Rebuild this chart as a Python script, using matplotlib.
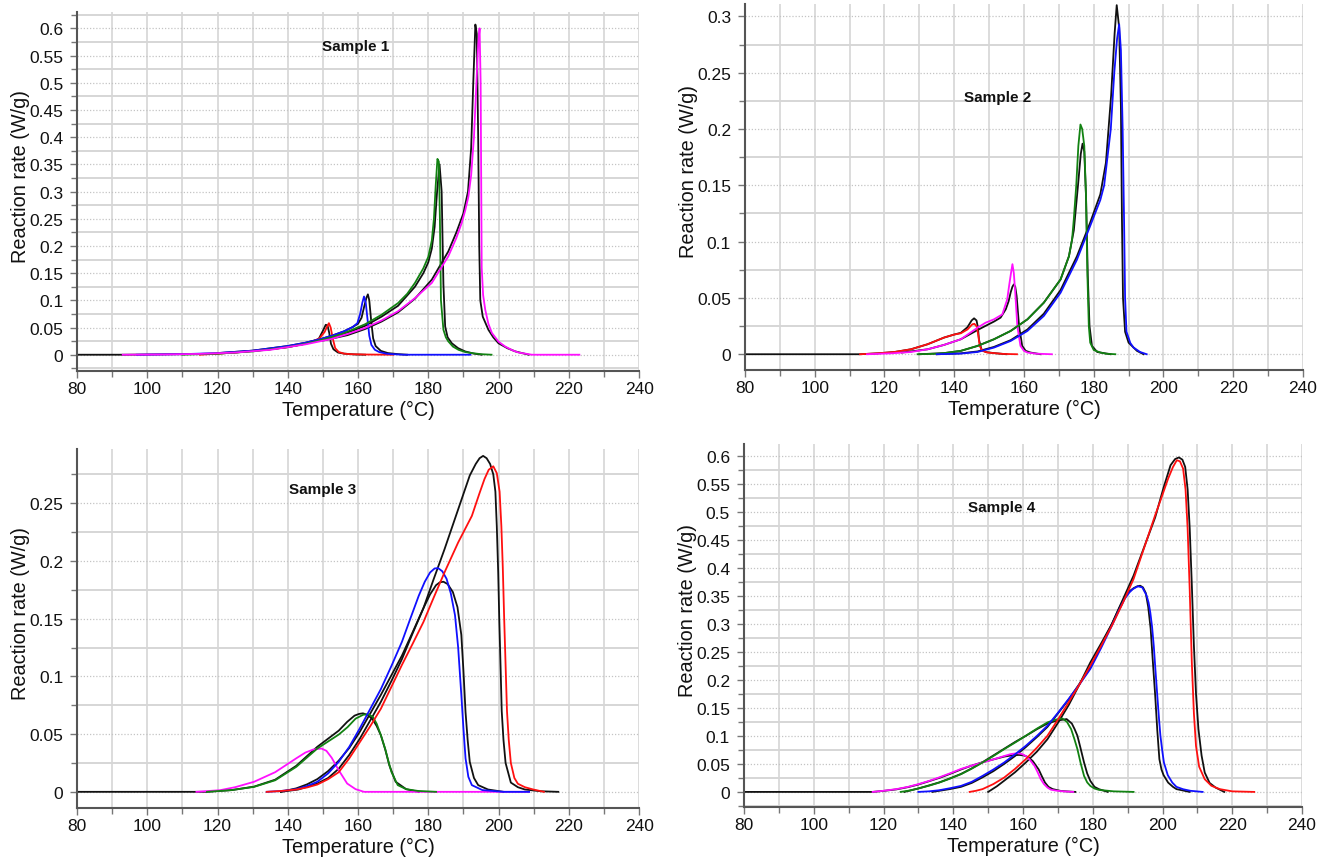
import matplotlib
matplotlib.use("Agg")
import matplotlib.pyplot as plt
from matplotlib.ticker import MultipleLocator, FuncFormatter

plt.rcParams['font.family'] = ['Liberation Sans', 'DejaVu Sans']

# ---------------- Sample 1 ----------------
s1_red_T = [115, 120, 125, 130, 135, 140, 144, 147, 149, 150.5, 151.2, 151.7, 152.2, 152.8, 153.5, 154.5, 156, 158, 162, 170]
s1_red_y = [0, 0.002, 0.004, 0.007, 0.010, 0.014, 0.019, 0.024, 0.030, 0.042, 0.052, 0.058, 0.050, 0.030, 0.012, 0.005, 0.002, 0.001, 0.0004, 0]
s1_blk_a_T = [80, 93, 110, 120, 125, 130, 135, 140, 144, 147, 148.8, 150, 150.8, 151.3, 151.8, 152.3, 153, 154.3, 156, 159, 162]
s1_blk_a_y = [0, 0, 0.001, 0.002, 0.004, 0.007, 0.010, 0.014, 0.019, 0.024, 0.029, 0.044, 0.055, 0.054, 0.040, 0.020, 0.010, 0.004, 0.002, 0.0005, 0]
s1_blue_T = [97, 110, 120, 130, 140, 145, 150, 153, 156, 158.5, 159.8, 160.6, 161.2, 161.7, 162.2, 162.7, 163.2, 163.8, 164.8, 166, 168, 170, 173, 192]
s1_blue_y = [0, 0.001, 0.003, 0.0075, 0.016, 0.022, 0.030, 0.036, 0.043, 0.051, 0.058, 0.075, 0.095, 0.107, 0.095, 0.065, 0.035, 0.018, 0.009, 0.005, 0.002, 0.001, 0, 0]
s1_blk_b_T = [120, 130, 140, 145, 150, 153, 156, 158.5, 160, 161, 161.8, 162.4, 162.8, 163.2, 163.7, 164.3, 165, 166.5, 168.5, 171.5, 174]
s1_blk_b_y = [0.003, 0.0075, 0.016, 0.022, 0.030, 0.036, 0.043, 0.051, 0.057, 0.068, 0.09, 0.105, 0.111, 0.100, 0.065, 0.030, 0.016, 0.007, 0.003, 0.001, 0]
s1_green_T = [110, 120, 130, 140, 145, 150, 155, 158, 162, 166.7, 171.4, 174, 176.2, 178.6, 180, 181, 181.6, 182.1, 182.6, 183.0, 183.3, 183.6, 184.3, 185, 185.7, 187, 188.6, 190.5, 192.4, 195, 198]
s1_green_y = [0, 0.002, 0.006, 0.014, 0.020, 0.028, 0.037, 0.045, 0.056, 0.0735, 0.095, 0.112, 0.132, 0.159, 0.18, 0.21, 0.25, 0.31, 0.36, 0.355, 0.25, 0.10, 0.046, 0.032, 0.0245, 0.015, 0.009, 0.005, 0.003, 0.001, 0]
s1_blk_c_T = [150, 158, 162, 166.7, 171.4, 176.2, 178.6, 180, 181, 181.8, 182.5, 183.2, 183.8, 184.3, 184.8, 185.5, 186.7, 188.5, 190.5, 193, 195.2]
s1_blk_c_y = [0.027, 0.043, 0.053, 0.070, 0.090, 0.125, 0.150, 0.170, 0.195, 0.235, 0.30, 0.35, 0.30, 0.13, 0.052, 0.032, 0.021, 0.012, 0.006, 0.002, 0]
s1_mag_T = [93, 105, 115, 125, 135, 145, 152.4, 157, 161.9, 166.7, 171.4, 176.2, 181, 185.7, 188, 189.5, 190.5, 191.4, 192.2, 193, 193.7, 194.2, 194.6, 194.9, 195.2, 195.6, 196.2, 197.1, 198.1, 200, 201.9, 204, 205.7, 209.5, 223]
s1_mag_y = [0, 0.0005, 0.0015, 0.004, 0.009, 0.019, 0.029, 0.038, 0.049, 0.063, 0.080, 0.104, 0.132, 0.181, 0.215, 0.242, 0.265, 0.29, 0.33, 0.40, 0.50, 0.57, 0.60, 0.50, 0.16, 0.11, 0.083, 0.057, 0.04, 0.024, 0.015, 0.008, 0.004, 0, 0]
s1_blk_d_T = [150, 157, 161.9, 166.7, 171.4, 176.2, 181, 185.7, 188, 190, 191.3, 192.2, 192.8, 193.4, 193.8, 194.2, 194.5, 194.8, 195.5, 197.1, 198.5, 200, 202.5, 204.8, 208.6]
s1_blk_d_y = [0.026, 0.036, 0.047, 0.061, 0.078, 0.103, 0.138, 0.19, 0.225, 0.26, 0.30, 0.38, 0.50, 0.607, 0.59, 0.40, 0.20, 0.10, 0.07, 0.046, 0.032, 0.021, 0.012, 0.006, 0]

# ---------------- Sample 2 ----------------
s2_red_T = [113, 118, 122.9, 127.6, 132.4, 137.1, 140, 141.9, 143.8, 145.2, 145.8, 146.5, 147.0, 147.3, 148.1, 149.5, 151.4, 154, 158]
s2_red_y = [0, 0.0008, 0.002, 0.0044, 0.0089, 0.0148, 0.0175, 0.0186, 0.022, 0.0266, 0.027, 0.0245, 0.015, 0.0074, 0.003, 0.0015, 0.001, 0.0003, 0]
s2_blk_a_T = [80, 113, 118, 122.9, 127.6, 132.4, 137.1, 140, 141.9, 143.8, 145.0, 145.7, 146.4, 146.8, 147.1, 147.8, 149, 151.4, 155]
s2_blk_a_y = [0, 0, 0.0008, 0.002, 0.0044, 0.0089, 0.0148, 0.0175, 0.019, 0.024, 0.030, 0.0319, 0.030, 0.024, 0.013, 0.0044, 0.002, 0.001, 0]
s2_mag_T = [115, 122, 127.6, 132.4, 137.1, 141.9, 146.7, 149, 151.4, 153.8, 155.2, 155.8, 156.3, 156.7, 157.1, 157.5, 158.1, 159, 160, 161, 163.5, 168]
s2_mag_y = [0, 0.0008, 0.002, 0.0044, 0.0083, 0.0133, 0.0236, 0.028, 0.031, 0.0354, 0.0487, 0.062, 0.0723, 0.080, 0.072, 0.055, 0.025, 0.0074, 0.003, 0.0015, 0.0005, 0]
s2_blk_b_T = [125, 132.4, 137.1, 141.9, 146.7, 149.5, 151.4, 153.3, 154.8, 155.6, 156.2, 156.7, 157.1, 157.5, 157.9, 158.6, 159.5, 160.5, 161.9, 164.8]
s2_blk_b_y = [0.0015, 0.0044, 0.0083, 0.0133, 0.0215, 0.026, 0.029, 0.0325, 0.040, 0.047, 0.055, 0.060, 0.062, 0.060, 0.0517, 0.025, 0.0074, 0.003, 0.0015, 0]
s2_green_T = [129.5, 135, 137.1, 141.9, 146.7, 151.4, 156.2, 161, 165.7, 170.5, 172.9, 173.8, 174.3, 175, 175.6, 176.2, 176.7, 177.3, 177.8, 178.2, 178.6, 179, 180, 181.9, 183.5, 186.2]
s2_green_y = [0, 0.0005, 0.001, 0.003, 0.0074, 0.0133, 0.0207, 0.031, 0.0458, 0.0664, 0.087, 0.1019, 0.12, 0.15, 0.185, 0.204, 0.200, 0.185, 0.14, 0.07, 0.025, 0.0103, 0.0038, 0.0015, 0.0005, 0]
s2_blk_c_T = [130, 137.1, 141.9, 146.7, 151.4, 156.2, 161, 165.7, 170.5, 172.9, 174.3, 175.5, 176.3, 176.8, 177.3, 177.8, 178.3, 178.8, 179.5, 181, 184.8]
s2_blk_c_y = [0, 0.001, 0.003, 0.0074, 0.0133, 0.0207, 0.031, 0.0458, 0.0664, 0.087, 0.11, 0.15, 0.178, 0.187, 0.18, 0.14, 0.07, 0.025, 0.0074, 0.002, 0]
s2_blue_T = [135, 141.9, 146.7, 151.4, 156.2, 161, 165.7, 170.5, 175.2, 179, 181.9, 183, 184.9, 185.9, 186.7, 187.3, 187.8, 188.3, 188.7, 189.0, 189.4, 190.5, 191.4, 193.3, 195.2]
s2_blue_y = [0, 0.0006, 0.002, 0.0059, 0.0118, 0.0207, 0.034, 0.0546, 0.084, 0.114, 0.137, 0.15, 0.2, 0.25, 0.28, 0.293, 0.27, 0.2, 0.12, 0.05, 0.02, 0.01, 0.006, 0.002, 0]
s2_blk_d_T = [135, 141.9, 146.7, 151.4, 156.2, 161, 165.7, 170.5, 175.2, 179, 181.9, 183.5, 185, 186, 186.6, 187.3, 187.8, 188.1, 188.4, 189.0, 190, 192.4, 194.3]
s2_blk_d_y = [0, 0.0008, 0.0025, 0.0065, 0.0125, 0.022, 0.036, 0.057, 0.087, 0.117, 0.142, 0.17, 0.23, 0.285, 0.31, 0.29, 0.22, 0.12, 0.05, 0.02, 0.0103, 0.003, 0]

# ---------------- Sample 3 ----------------
s3_mag_T = [114, 120.7, 125, 130.4, 136.4, 139.4, 142.4, 145, 147.2, 149.6, 151, 152.5, 154.5, 156.9, 159.3, 161.7, 208.7]
s3_mag_y = [0, 0.0014, 0.004, 0.0087, 0.017, 0.023, 0.029, 0.034, 0.0366, 0.0375, 0.0355, 0.0295, 0.0187, 0.0072, 0.0023, 0, 0]
s3_green_T = [117, 124, 130.4, 136.4, 142.4, 148.4, 154.5, 157, 159.3, 161.5, 162.9, 164.2, 165.3, 166.5, 167.7, 168.6, 169.5, 171.3, 173.7, 177, 182.2]
s3_green_y = [0, 0.0015, 0.0043, 0.01, 0.0216, 0.0375, 0.0496, 0.056, 0.0634, 0.0668, 0.0672, 0.065, 0.059, 0.049, 0.0375, 0.027, 0.0173, 0.0058, 0.0023, 0.0008, 0]
s3_blk_a_T = [80, 117, 124, 130.4, 136.4, 142.4, 148.4, 154.5, 156.9, 159, 160.3, 161.4, 162.8, 164.1, 165.3, 166.5, 167.8, 168.9, 170.7, 173.7, 177.3]
s3_blk_a_y = [0, 0, 0.0015, 0.0045, 0.0105, 0.0225, 0.039, 0.053, 0.0606, 0.066, 0.0675, 0.068, 0.0665, 0.063, 0.057, 0.049, 0.036, 0.023, 0.0087, 0.0023, 0]
s3_blue_T = [134, 138, 142.4, 145.5, 148.4, 151.5, 154.5, 157.5, 160.5, 163.5, 166.5, 169.5, 172.5, 175, 177.3, 179, 180.5, 181.8, 182.8, 184, 185.2, 186.4, 187.6, 188.5, 189.4, 190.0, 190.6, 191.4, 192.4, 195.4, 201.4, 208.7]
s3_blue_y = [0, 0.0007, 0.0023, 0.005, 0.0087, 0.016, 0.026, 0.039, 0.055, 0.072, 0.089, 0.109, 0.13, 0.151, 0.17, 0.182, 0.19, 0.1935, 0.1938, 0.191, 0.1845, 0.172, 0.153, 0.125, 0.084, 0.055, 0.029, 0.013, 0.0058, 0.0015, 0, 0]
s3_blk_b_T = [138, 142.4, 145.5, 148.4, 151.5, 154.5, 157.5, 160.5, 163.5, 166.5, 169.5, 172.5, 175.5, 178.6, 180.5, 182.2, 183.3, 184.3, 185.5, 187, 188.3, 189.4, 190, 190.6, 191.2, 191.8, 193, 194.2, 197, 201.4]
s3_blk_b_y = [0, 0.003, 0.0065, 0.011, 0.018, 0.027, 0.038, 0.052, 0.068, 0.084, 0.101, 0.118, 0.138, 0.159, 0.171, 0.179, 0.1815, 0.182, 0.18, 0.173, 0.16, 0.136, 0.105, 0.069, 0.045, 0.026, 0.012, 0.0058, 0.002, 0]
s3_red_T = [134, 138, 142.4, 145.5, 148.4, 151.5, 154.5, 157.5, 160.5, 163.5, 166.5, 169.5, 172.5, 175.5, 178.6, 181.5, 184.6, 188.5, 192.4, 194.5, 196, 197.2, 198.5, 199.5, 200.3, 200.8, 201.2, 201.6, 202.0, 202.4, 202.9, 203.5, 204.5, 205.5, 207.5, 209.9, 212.9]
s3_red_y = [0, 0.0007, 0.002, 0.0038, 0.0063, 0.011, 0.017, 0.029, 0.043, 0.057, 0.072, 0.091, 0.11, 0.128, 0.147, 0.168, 0.19, 0.216, 0.239, 0.258, 0.271, 0.279, 0.282, 0.276, 0.26, 0.23, 0.195, 0.15, 0.11, 0.07, 0.045, 0.025, 0.012, 0.007, 0.004, 0.002, 0]
s3_blk_c_T = [138, 143, 148.4, 151.5, 154.5, 157.5, 160.5, 163.5, 166.5, 169.5, 172.5, 175.5, 178.6, 181.5, 184.6, 188.2, 191.8, 193.5, 194.6, 195.6, 196.6, 197.6, 198.5, 199.1, 199.5, 199.9, 200.2, 200.6, 200.9, 201.4, 202, 203.5, 205.5, 207.5, 212, 217]
s3_blk_c_y = [0, 0.002, 0.0072, 0.012, 0.02, 0.032, 0.046, 0.062, 0.078, 0.096, 0.115, 0.137, 0.159, 0.184, 0.21, 0.242, 0.274, 0.284, 0.289, 0.291, 0.289, 0.284, 0.275, 0.26, 0.23, 0.19, 0.15, 0.105, 0.07, 0.045, 0.025, 0.008, 0.004, 0.002, 0.0005, 0]

# ---------------- Sample 4 ----------------
s4_mag_T = [116.9, 120, 123.7, 127, 129.9, 133, 136, 139, 142.2, 145.3, 148.4, 151.5, 154.6, 156.5, 158.3, 159.6, 160.8, 162, 163.3, 164.2, 165.1, 166, 167, 168, 169.4, 171.5, 174.4]
s4_mag_y = [0, 0.002, 0.005, 0.009, 0.0137, 0.0195, 0.026, 0.033, 0.041, 0.047, 0.0525, 0.058, 0.064, 0.0675, 0.069, 0.068, 0.064, 0.057, 0.0465, 0.035, 0.0227, 0.014, 0.0078, 0.004, 0.0024, 0.001, 0]
s4_blk_a_T = [80, 116.9, 120, 123.7, 127, 129.9, 133, 136, 139, 142.2, 145.3, 148.4, 151.5, 154.6, 157, 158.9, 160.3, 161.5, 162.8, 164.5, 165.4, 166.3, 167.3, 168.5, 171, 175]
s4_blk_a_y = [0, 0, 0.0018, 0.0045, 0.0085, 0.013, 0.019, 0.025, 0.032, 0.040, 0.047, 0.053, 0.058, 0.063, 0.0655, 0.066, 0.065, 0.062, 0.055, 0.040, 0.028, 0.0167, 0.009, 0.005, 0.0015, 0]
s4_green_T = [124.9, 127.5, 129.9, 133, 136, 139, 142.2, 145.3, 148.4, 151.5, 154.6, 157.7, 160.8, 164, 167, 169.3, 171.3, 172.6, 173.8, 174.7, 175.6, 176.5, 177.5, 178.4, 179.3, 180.5, 181.8, 186, 191.7]
s4_green_y = [0, 0.0025, 0.006, 0.011, 0.0167, 0.0235, 0.0316, 0.0415, 0.0525, 0.064, 0.0763, 0.088, 0.1002, 0.113, 0.124, 0.129, 0.131, 0.125, 0.112, 0.095, 0.0763, 0.052, 0.0286, 0.017, 0.0107, 0.006, 0.0036, 0.001, 0]
s4_blk_b_T = [126, 129.9, 133, 136, 139, 142.2, 145.3, 148.4, 151.5, 154.6, 157.7, 160.8, 164, 167, 169, 170.5, 172.5, 174, 174.8, 175.6, 176.5, 177.5, 178.4, 179.3, 180.5, 181.8, 184.3]
s4_blk_b_y = [0, 0.006, 0.0115, 0.017, 0.024, 0.032, 0.042, 0.053, 0.065, 0.077, 0.089, 0.10, 0.112, 0.122, 0.126, 0.128, 0.13, 0.122, 0.112, 0.1002, 0.078, 0.0525, 0.033, 0.0197, 0.009, 0.0048, 0]
s4_blue_T = [130, 133, 136, 139, 142.2, 145.3, 148.4, 151.5, 154.6, 157.7, 160.8, 164, 167, 170, 173.1, 176.2, 179.3, 182.4, 185.5, 187.5, 189.2, 190.5, 191.5, 192.9, 194.2, 195.4, 196.0, 196.5, 197.0, 197.5, 198.0, 198.5, 199.0, 199.4, 200.0, 200.4, 201.5, 202.8, 204, 205.9, 208, 211.5]
s4_blue_y = [0, 0.001, 0.003, 0.0065, 0.0107, 0.018, 0.0286, 0.04, 0.0525, 0.067, 0.0823, 0.10, 0.118, 0.141, 0.166, 0.192, 0.2195, 0.257, 0.297, 0.324, 0.345, 0.356, 0.362, 0.367, 0.365, 0.351, 0.338, 0.32, 0.295, 0.26, 0.215, 0.172, 0.13, 0.1, 0.07, 0.0525, 0.03, 0.0167, 0.009, 0.0048, 0.002, 0]
s4_blk_c_T = [134, 139, 142.2, 145.3, 148.4, 151.5, 154.6, 157.7, 160.8, 164, 167, 170, 173.1, 176.2, 179.3, 182.4, 185.5, 187.5, 189.2, 190.5, 191.8, 192.8, 193.6, 194.4, 195.2, 195.9, 196.6, 197.2, 197.9, 198.5, 199.1, 199.7, 200.3, 201.6, 203, 204, 207.8]
s4_blk_c_y = [0, 0.005, 0.009, 0.016, 0.026, 0.037, 0.05, 0.064, 0.080, 0.098, 0.116, 0.14, 0.165, 0.193, 0.222, 0.26, 0.30, 0.327, 0.348, 0.358, 0.364, 0.367, 0.368, 0.365, 0.355, 0.33, 0.291, 0.235, 0.172, 0.11, 0.0585, 0.04, 0.03, 0.0167, 0.009, 0.005, 0]
s4_red_T = [144.7, 146.5, 148.4, 151.5, 154.6, 157.7, 160.8, 164, 167, 170, 173.1, 176.2, 179.3, 182.4, 185.5, 188.6, 191.7, 194.8, 197.9, 199.8, 201.6, 203, 204.1, 205.0, 205.9, 206.6, 207.2, 207.8, 208.4, 209.0, 209.6, 210.5, 212.1, 214, 216.4, 220, 226.3]
s4_red_y = [0, 0.002, 0.005, 0.014, 0.0256, 0.041, 0.0585, 0.079, 0.1002, 0.129, 0.16, 0.192, 0.2255, 0.261, 0.297, 0.337, 0.38, 0.437, 0.494, 0.527, 0.559, 0.580, 0.592, 0.590, 0.577, 0.54, 0.47, 0.36, 0.231, 0.14, 0.082, 0.045, 0.0227, 0.011, 0.005, 0.001, 0]
s4_blk_d_T = [150, 152.5, 154.6, 157.7, 160.8, 164, 167, 170, 173.1, 176.2, 179.3, 182.4, 185.5, 188.6, 191.7, 194.8, 197.9, 200.3, 202.3, 203.6, 204.7, 205.7, 206.5, 207.2, 207.8, 208.4, 209, 209.6, 210.3, 211.2, 212.1, 213.5, 215.2, 217.7]
s4_blk_d_y = [0, 0.01, 0.02, 0.035, 0.0525, 0.072, 0.094, 0.123, 0.155, 0.192, 0.231, 0.265, 0.30, 0.343, 0.386, 0.438, 0.49, 0.543, 0.583, 0.594, 0.597, 0.593, 0.58, 0.54, 0.47, 0.37, 0.261, 0.175, 0.112, 0.065, 0.0346, 0.016, 0.0078, 0]

panel_titles = ["Sample 1", "Sample 2", "Sample 3", "Sample 4"]
x_label = "Temperature (°C)"
y_label = "Reaction rate (W/g)"

RED, BLUE, GREEN, MAG, BLK = "#ff1010", "#1010ff", "#128212", "#ff10ff", "#111111"

panels = [
    dict(rect=[0.0577, 0.5684, 0.4210, 0.4165], ylim=(-0.03, 0.63),
         title_xy=(159.2, 0.567),
         black=[(s1_blk_a_T, s1_blk_a_y), (s1_blk_b_T, s1_blk_b_y), (s1_blk_c_T, s1_blk_c_y), (s1_blk_d_T, s1_blk_d_y)],
         color=[(s1_red_T, s1_red_y, RED), (s1_blue_T, s1_blue_y, BLUE), (s1_green_T, s1_green_y, GREEN),
                (s1_mag_T, s1_mag_y, MAG)]),
    dict(rect=[0.5580, 0.5696, 0.4180, 0.4246], ylim=(-0.014, 0.311),
         title_xy=(152.5, 0.2285),
         black=[(s2_blk_a_T, s2_blk_a_y), (s2_blk_b_T, s2_blk_b_y), (s2_blk_c_T, s2_blk_c_y), (s2_blk_d_T, s2_blk_d_y)],
         color=[(s2_red_T, s2_red_y, RED), (s2_mag_T, s2_mag_y, MAG), (s2_green_T, s2_green_y, GREEN),
                (s2_blue_T, s2_blue_y, BLUE)]),
    dict(rect=[0.0577, 0.0615, 0.4210, 0.4165], ylim=(-0.014, 0.297),
         title_xy=(149.8, 0.262),
         black=[(s3_blk_a_T, s3_blk_a_y), (s3_blk_b_T, s3_blk_b_y), (s3_blk_c_T, s3_blk_c_y)],
         color=[(s3_mag_T, s3_mag_y, MAG), (s3_green_T, s3_green_y, GREEN), (s3_blue_T, s3_blue_y, BLUE),
                (s3_red_T, s3_red_y, RED)]),
    dict(rect=[0.5573, 0.0626, 0.4180, 0.4212], ylim=(-0.027, 0.621),
         title_xy=(153.9, 0.509),
         black=[(s4_blk_a_T, s4_blk_a_y), (s4_blk_b_T, s4_blk_b_y), (s4_blk_c_T, s4_blk_c_y), (s4_blk_d_T, s4_blk_d_y)],
         color=[(s4_mag_T, s4_mag_y, MAG), (s4_green_T, s4_green_y, GREEN), (s4_blue_T, s4_blue_y, BLUE),
                (s4_red_T, s4_red_y, RED)]),
]

fig = plt.figure(figsize=(13.35, 8.62), dpi=100)
fmt = FuncFormatter(lambda v, p: "0" if abs(v) < 1e-9 else f"{v:.3g}")

for i, p in enumerate(panels):
    ax = fig.add_axes(p["rect"])
    ax.set_xlim(80, 240)
    ax.set_ylim(*p["ylim"])
    ax.xaxis.set_major_locator(MultipleLocator(20))
    ax.xaxis.set_minor_locator(MultipleLocator(10))
    ax.yaxis.set_major_locator(MultipleLocator(0.05))
    ax.yaxis.set_minor_locator(MultipleLocator(0.025))
    ax.yaxis.set_major_formatter(fmt)
    ax.grid(which="major", axis="y", linestyle=(0, (1, 1.5)), color="#c4c4c4", lw=0.9)
    ax.grid(which="minor", axis="y", linestyle="-", color="#d6d6d6", lw=1.4)
    ax.grid(which="both", axis="x", linestyle="-", color="#d6d6d6", lw=1.2)
    ax.set_axisbelow(True)
    for s in ("top", "right"):
        ax.spines[s].set_visible(False)
    for s in ("left", "bottom"):
        ax.spines[s].set_color("#555555")
        ax.spines[s].set_linewidth(1.5)
    ax.tick_params(which="both", direction="out", color="#777777", width=1.0, labelsize=12.5,
                   labelcolor="#111111")
    ax.tick_params(axis="x", pad=2)
    ax.tick_params(axis="y", pad=5)
    ax.tick_params(which="major", length=5)
    ax.tick_params(which="minor", length=4)
    for T, y in p["black"]:
        ax.plot(T, y, color=BLK, lw=1.3, solid_joinstyle="round")
    for T, y, c in p["color"]:
        ax.plot(T, y, color=c, lw=1.3, solid_joinstyle="round")
    ax.set_xlabel(x_label, fontsize=14.3, labelpad=3, color="#111111")
    ax.set_ylabel(y_label, fontsize=14.3, color="#111111")
    ax.yaxis.set_label_coords(-0.084, 0.545)
    ax.text(p["title_xy"][0], p["title_xy"][1], panel_titles[i], fontsize=11, fontweight="bold",
            ha="center", va="center", color="#111111")

fig.savefig("out.png", dpi=100)
